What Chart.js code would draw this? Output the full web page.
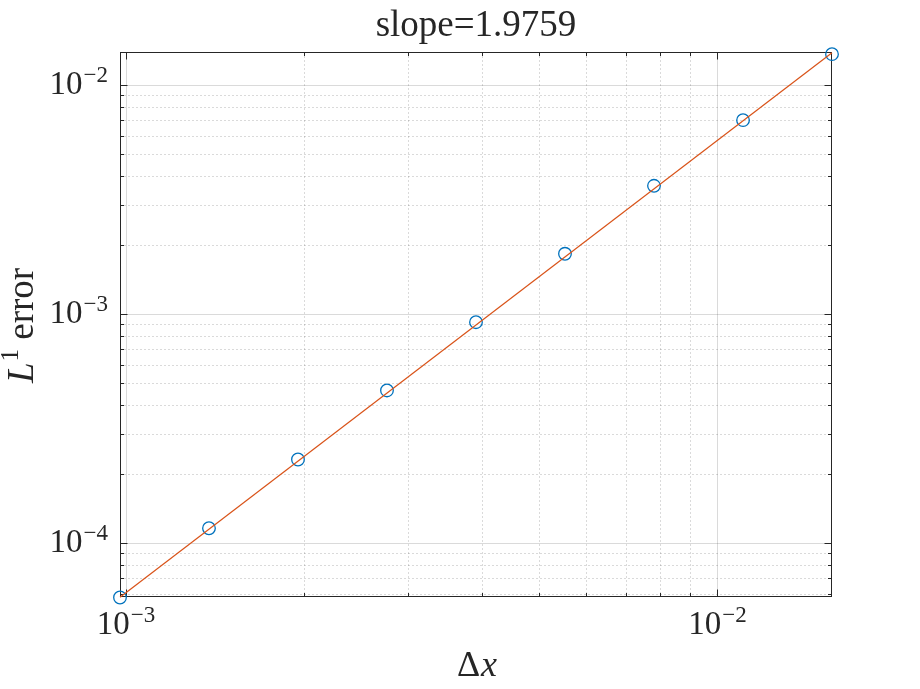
<!DOCTYPE html>
<html><head><meta charset="utf-8">
<script src="https://cdn.jsdelivr.net/npm/chart.js@4"></script>
<style>html,body{margin:0;padding:0;background:#fff}canvas{display:block}</style>
</head><body>
<canvas id="c" width="920" height="689"></canvas>
<script>
// ---- data ----
const dx = [9.766e-4, 1.381e-3, 1.953e-3, 2.762e-3, 3.906e-3, 5.524e-3, 7.8125e-3, 1.105e-2, 1.5625e-2];
const l1Error = [5.77e-5, 1.158e-4, 2.311e-4, 4.627e-4, 9.19e-4, 1.828e-3, 3.62e-3, 7.005e-3, 1.36e-2];
const fitX = [9.766e-4, 1.5625e-2];
const fitY = [5.78e-5, 1.38e-2];
const xTickExponents = [-3, -2];
const yTickExponents = [-4, -3, -2];
const xRange = [9.766e-4, 1.5625e-2];
const yRange = [5.8e-5, 1.39e-2];
const titleText = 'slope=1.9759';

const INK = '#262626';
const SERIF = '"Liberation Serif", "DejaVu Serif", serif';

function gridValues(min, max) {
  const out = [];
  const e0 = Math.floor(Math.log10(min)), e1 = Math.ceil(Math.log10(max));
  for (let e = e0; e <= e1; e++) {
    for (let m = 1; m <= 9; m++) {
      const v = m * Math.pow(10, e);
      if (v >= min * 0.9999 && v <= max * 1.0001) out.push({v, major: m === 1});
    }
  }
  return out;
}

function drawPow(ctx, exp, x, baseY, expY, align) {
  const base = '10', sup = '\u2212' + Math.abs(exp);
  ctx.font = '33px ' + SERIF;
  const w1 = ctx.measureText(base).width;
  ctx.font = '23px ' + SERIF;
  const w2 = ctx.measureText(sup).width;
  const total = w1 + w2 + 1;
  let start = align === 'center' ? x - total / 2 : x - total;
  ctx.textAlign = 'left';
  ctx.textBaseline = 'alphabetic';
  ctx.font = '33px ' + SERIF;
  ctx.fillText(base, start, baseY);
  ctx.font = '23px ' + SERIF;
  ctx.fillText(sup, start + w1 + 1, expY);
}

const matlabAxes = {
  id: 'matlabAxes',
  beforeDatasetsDraw(chart) {
    const {ctx, chartArea: a, scales: {x, y}} = chart;
    const L = Math.round(a.left) + 0.5, R = Math.round(a.right) - 0.5;
    const T = Math.round(a.top) + 0.5, B = Math.round(a.bottom) - 0.5;
    const xs = gridValues(x.min, x.max).map(g => ({...g, p: Math.round(x.getPixelForValue(g.v)) + 0.5}));
    const ys = gridValues(y.min, y.max).map(g => ({...g, p: Math.round(y.getPixelForValue(g.v)) + 0.5}));
    ctx.save();
    ctx.lineWidth = 1;
    // minor grid (dotted)
    ctx.strokeStyle = 'rgba(38,38,38,0.34)';
    ctx.setLineDash([1, 3]);
    ctx.beginPath();
    xs.filter(g => !g.major).forEach(g => { ctx.moveTo(g.p, T); ctx.lineTo(g.p, B); });
    ys.filter(g => !g.major).forEach(g => { ctx.moveTo(L, g.p); ctx.lineTo(R, g.p); });
    ctx.stroke();
    // major grid (solid)
    ctx.setLineDash([]);
    ctx.strokeStyle = 'rgba(38,38,38,0.17)';
    ctx.beginPath();
    xs.filter(g => g.major).forEach(g => { ctx.moveTo(g.p, T); ctx.lineTo(g.p, B); });
    ys.filter(g => g.major).forEach(g => { ctx.moveTo(L, g.p); ctx.lineTo(R, g.p); });
    ctx.stroke();
    // box
    ctx.strokeStyle = INK;
    ctx.strokeRect(L, T, R - L, B - T);
    // ticks (inward, all four sides)
    ctx.beginPath();
    xs.forEach(g => {
      const len = g.major ? 7 : 3.5;
      ctx.moveTo(g.p, B); ctx.lineTo(g.p, B - len);
      ctx.moveTo(g.p, T); ctx.lineTo(g.p, T + len);
    });
    ys.forEach(g => {
      const len = g.major ? 7 : 3.5;
      ctx.moveTo(L, g.p); ctx.lineTo(L + len, g.p);
      ctx.moveTo(R, g.p); ctx.lineTo(R - len, g.p);
    });
    ctx.stroke();
    ctx.restore();
  },
  afterDraw(chart) {
    const {ctx, chartArea: a, scales: {x, y}} = chart;
    ctx.save();
    ctx.fillStyle = INK;
    // tick labels
    xTickExponents.forEach(e => {
      const px = x.getPixelForValue(Math.pow(10, e));
      drawPow(ctx, e, px, 634, 622, 'center');
    });
    yTickExponents.forEach(e => {
      const py = y.getPixelForValue(Math.pow(10, e));
      drawPow(ctx, e, a.left - 12, py + 9, py - 3, 'right');
    });
    // title
    ctx.font = '37px ' + SERIF;
    ctx.textAlign = 'center';
    ctx.textBaseline = 'alphabetic';
    ctx.fillText(titleText, (a.left + a.right) / 2, 36);
    // x label: Δx
    ctx.textAlign = 'left';
    ctx.font = '36px ' + SERIF;
    const wD = ctx.measureText('\u0394').width;
    ctx.font = 'italic 36px ' + SERIF;
    const wx = ctx.measureText('x').width;
    let sx = 477 - (wD + wx + 1) / 2;
    ctx.font = '36px ' + SERIF;
    ctx.fillText('\u0394', sx, 676);
    ctx.font = 'italic 36px ' + SERIF;
    ctx.fillText('x', sx + wD + 1, 676);
    // y label: L^1 error (rotated)
    ctx.translate(33, (a.top + a.bottom) / 2 + 1);
    ctx.rotate(-Math.PI / 2);
    ctx.font = 'italic 37px ' + SERIF;
    const wL = ctx.measureText('L').width;
    ctx.font = '25px ' + SERIF;
    const w1 = ctx.measureText('1').width;
    ctx.font = '37px ' + SERIF;
    const wE = ctx.measureText(' error').width;
    let s = -(wL + 1 + w1 + wE) / 2;
    ctx.font = 'italic 37px ' + SERIF;
    ctx.fillText('L', s, 0);
    ctx.font = '25px ' + SERIF;
    ctx.fillText('1', s + wL + 1, -15);
    ctx.font = '37px ' + SERIF;
    ctx.fillText(' error', s + wL + 1 + w1, 0);
    ctx.restore();
  }
};

new Chart(document.getElementById('c'), {
  type: 'scatter',
  data: {
    datasets: [
      {
        label: 'fit',
        data: fitX.map((v, i) => ({x: v, y: fitY[i]})),
        showLine: true,
        borderColor: '#D95319',
        borderWidth: 1.2,
        pointRadius: 0,
        order: 0,
        clip: false
      },
      {
        label: 'L1 error',
        data: dx.map((v, i) => ({x: v, y: l1Error[i]})),
        showLine: false,
        pointStyle: 'circle',
        pointRadius: 6.3,
        pointBorderWidth: 1.3,
        borderColor: '#0072BD',
        backgroundColor: 'rgba(0,0,0,0)',
        order: 1,
        clip: false
      }
    ]
  },
  options: {
    responsive: false,
    devicePixelRatio: 1,
    animation: false,
    layout: {padding: {left: 120, right: 88, top: 52, bottom: 92}},
    plugins: {legend: {display: false}, tooltip: {enabled: false}, title: {display: false}},
    scales: {
      x: {type: 'logarithmic', min: xRange[0], max: xRange[1], display: false},
      y: {type: 'logarithmic', min: yRange[0], max: yRange[1], display: false}
    }
  },
  plugins: [matlabAxes]
});
</script>
</body></html>
